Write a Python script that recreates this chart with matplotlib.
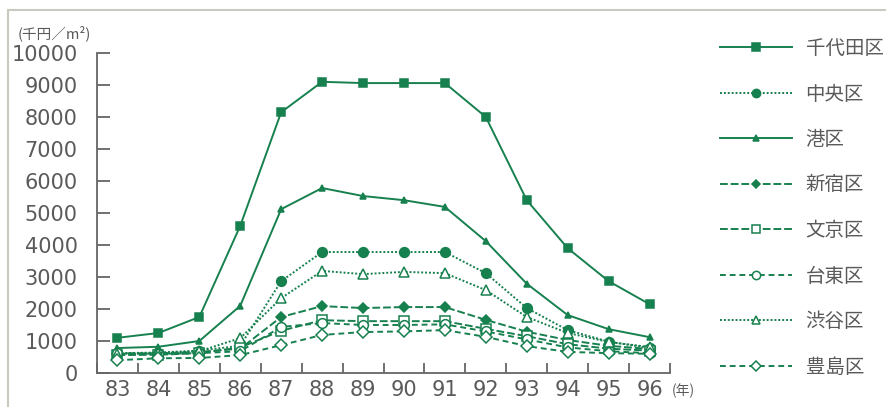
import numpy as np
import matplotlib
matplotlib.use("Agg")
import matplotlib.pyplot as plt
from matplotlib.patches import Rectangle

plt.rcParams['font.family'] = ['Noto Sans CJK JP', 'DejaVu Sans']

# land price per m2, thousand yen, 1983-1996
years = [83, 84, 85, 86, 87, 88, 89, 90, 91, 92, 93, 94, 95, 96]
chiyoda = [1100, 1250, 1750, 4600, 8150, 9100, 9060, 9060, 9060, 8000, 5400, 3900, 2870, 2150]
chuo = [620, 640, 700, 850, 2870, 3780, 3780, 3780, 3780, 3120, 2030, 1340, 980, 780]
minato = [780, 820, 1000, 2100, 5120, 5780, 5530, 5400, 5190, 4120, 2790, 1810, 1370, 1120]
shinjuku = [600, 620, 660, 760, 1750, 2090, 2030, 2060, 2060, 1660, 1290, 1030, 850, 750]
bunkyo = [560, 570, 620, 800, 1320, 1650, 1620, 1620, 1620, 1380, 1150, 900, 760, 700]
taito = [620, 600, 620, 680, 1440, 1560, 1500, 1500, 1520, 1300, 1050, 800, 680, 620]
shibuya = [600, 620, 680, 1090, 2340, 3190, 3090, 3160, 3120, 2590, 1750, 1250, 970, 810]
toshima = [400, 460, 470, 560, 870, 1190, 1280, 1300, 1340, 1130, 840, 660, 620, 600]

GREEN = '#17804f'
GRAY = '#5a5a5a'

series = [
    ('千代田区', chiyoda, '-', 's', GREEN, 6),
    ('中央区', chuo, (0, (1, 1)), 'o', GREEN, 7),
    ('港区', minato, '-', '^', GREEN, 5),
    ('新宿区', shinjuku, (0, (4, 1.5)), 'D', GREEN, 5),
    ('文京区', bunkyo, (0, (4, 1.5)), 's', 'white', 7),
    ('台東区', taito, (0, (3, 2)), 'o', 'white', 7),
    ('渋谷区', shibuya, (0, (1, 1)), '^', 'white', 7),
    ('豊島区', toshima, (0, (3, 2)), 'D', 'white', 6),
]

fig = plt.figure(figsize=(8.87, 4.07), dpi=100)
fig.patch.set_facecolor('white')

# light frame around the chart
fig.patches.append(Rectangle((8 / 887, -0.1), 1.2, 1.1 - 10 / 407,
                             transform=fig.transFigure, fill=False,
                             edgecolor='#c9c9c0', lw=1.5))

ax = fig.add_axes([97 / 887, 34 / 407, 573 / 887, 320 / 407])

handles = []
for name, vals, ls, mk, face, ms in series:
    h, = ax.plot(years, vals, color=GREEN, lw=1.4, linestyle=ls,
                 marker=mk, markersize=ms, markerfacecolor=face,
                 markeredgecolor=GREEN, markeredgewidth=1.1, label=name)
    handles.append(h)

ax.set_xlim(82.5, 96.5)
ax.set_ylim(0, 10000)
ax.set_yticks(np.arange(0, 10001, 1000))
ax.set_xticks(np.arange(82.5, 97, 1))
ax.set_xticklabels([])
ax.set_xticks(years, minor=True)
ax.set_xticklabels([str(y) for y in years], minor=True)

for s in ['top', 'right']:
    ax.spines[s].set_visible(False)
for s in ['left', 'bottom']:
    ax.spines[s].set_color('#666666')
    ax.spines[s].set_linewidth(1.3)

ax.tick_params(axis='y', direction='in', length=9, width=1.3, color='#666666',
               labelsize=15, labelcolor=GRAY, pad=14)
ax.tick_params(axis='x', which='major', direction='in', length=7, width=1.3,
               color='#666666')
ax.tick_params(axis='x', which='minor', length=0, labelsize=15,
               labelcolor=GRAY, pad=5)
for lbl in ax.get_yticklabels() + ax.get_xticklabels(minor=True):
    lbl.set_family('DejaVu Sans')

fig.text(18 / 887, 1 - 33 / 407, '(千円／m²)', fontsize=10.5, color=GRAY,
         va='center', ha='left')
fig.text(672 / 887, 1 - 391 / 407, '(年)', fontsize=10, color=GRAY,
         va='center', ha='left')

fig.legend(handles=handles, loc='upper left',
           bbox_to_anchor=(720 / 887, 1 - 38 / 407),
           frameon=False, fontsize=14, labelcolor=GRAY, markerscale=0.85,
           handlelength=3.7, handletextpad=0.7, labelspacing=1.26,
           borderpad=0, borderaxespad=0)

fig.savefig('out.png', dpi=100)
